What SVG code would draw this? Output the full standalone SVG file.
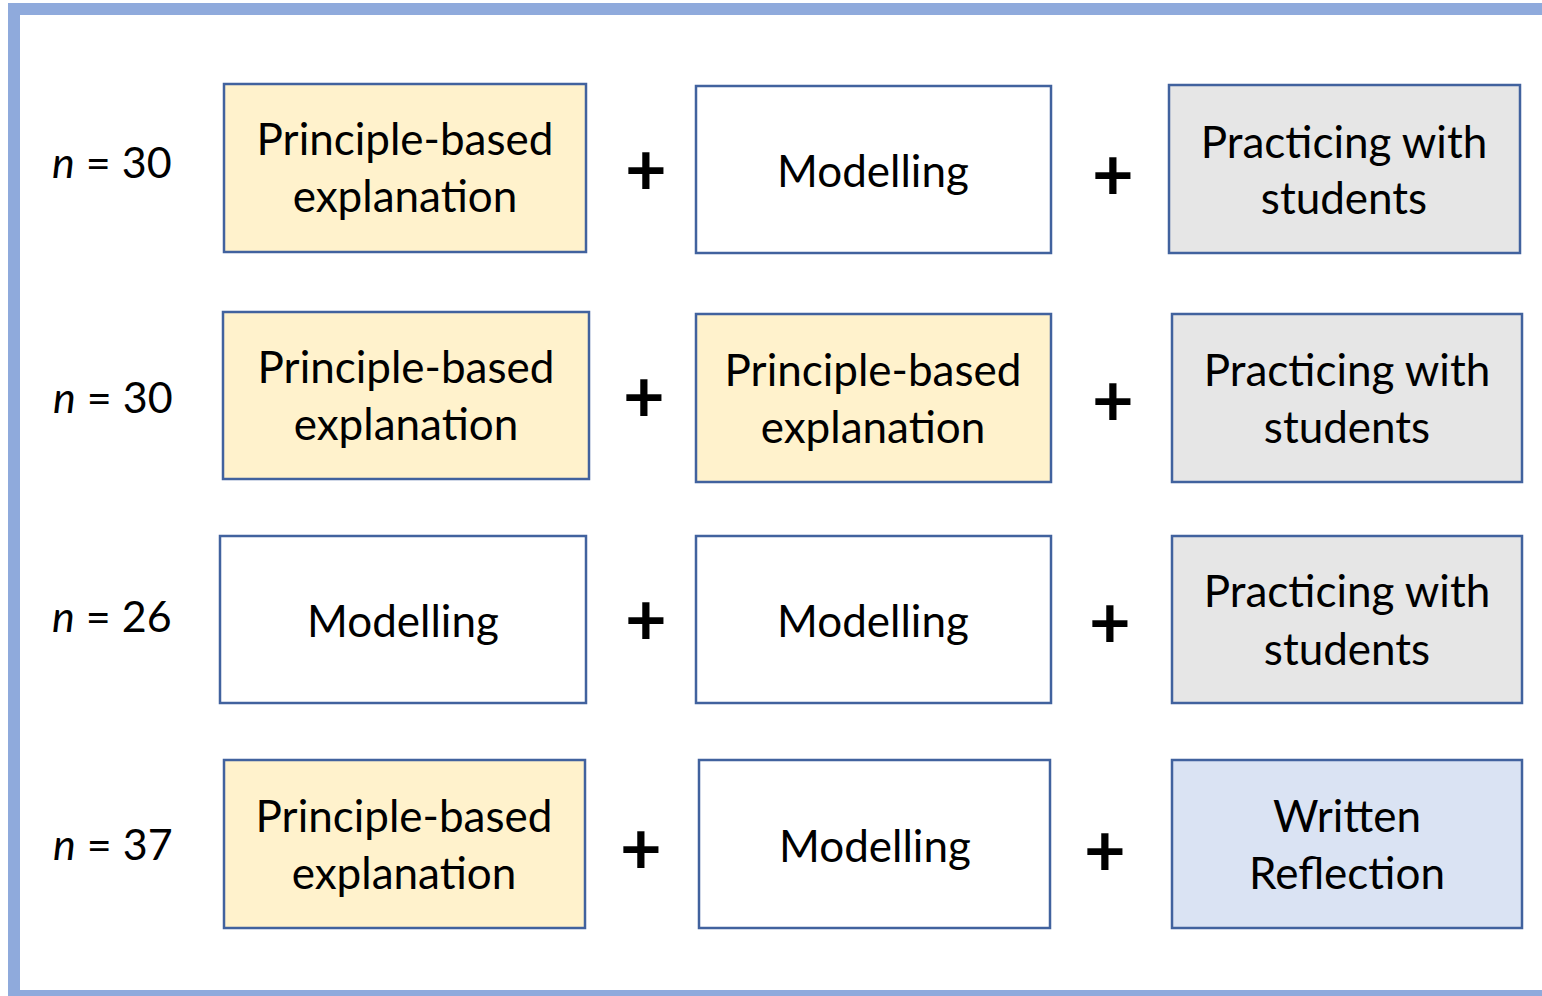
<svg xmlns="http://www.w3.org/2000/svg" width="1542" height="996" viewBox="0 0 1542 996">
  <style>
    .box { stroke: #41629E; stroke-width: 2.5; }
    .yellow { fill: #FFF2CC; }
    .white { fill: #FFFFFF; }
    .grey { fill: #E6E6E6; }
    .blue { fill: #DAE3F3; }
    text { font-family: Lato, "Open Sans", "Liberation Sans", sans-serif; fill: #000000; }
    .label { font-size: 44px; text-anchor: middle; }
    .count { font-size: 43px; }
    .plus { font-size: 72px; font-weight: bold; text-anchor: middle; }
  </style>

  <!-- outer frame -->
  <rect x="14" y="9" width="1540" height="987" fill="#FFFFFF" stroke="#8FAADC" stroke-width="12"/>

  <!-- group sizes -->
  <g id="counts" class="count">
    <text x="52" y="178"><tspan font-style="italic">n</tspan> = 30</text>
    <text x="53" y="413"><tspan font-style="italic">n</tspan> = 30</text>
    <text x="52" y="632"><tspan font-style="italic">n</tspan> = 26</text>
    <text x="53" y="860"><tspan font-style="italic">n</tspan> = 37</text>
  </g>

  <!-- row 1 -->
  <g id="r1-principle">
    <rect class="box yellow" x="224" y="84" width="362" height="168"/>
    <text class="label" x="405" y="155">Principle-based</text>
    <text class="label" x="405" y="212">explanation</text>
  </g>
  <g id="r1-modelling">
    <rect class="box white" x="696" y="86" width="355" height="167"/>
    <text class="label" x="873" y="187">Modelling</text>
  </g>
  <g id="r1-practicing">
    <rect class="box grey" x="1169" y="85" width="351" height="168"/>
    <text class="label" x="1344" y="158">Practicing with</text>
    <text class="label" x="1344" y="214">students</text>
  </g>

  <!-- row 2 -->
  <g id="r2-principle-a">
    <rect class="box yellow" x="223" y="312" width="366" height="167"/>
    <text class="label" x="406" y="383">Principle-based</text>
    <text class="label" x="406" y="440">explanation</text>
  </g>
  <g id="r2-principle-b">
    <rect class="box yellow" x="696" y="314" width="355" height="168"/>
    <text class="label" x="873" y="386">Principle-based</text>
    <text class="label" x="873" y="443">explanation</text>
  </g>
  <g id="r2-practicing">
    <rect class="box grey" x="1172" y="314" width="350" height="168"/>
    <text class="label" x="1347" y="386">Practicing with</text>
    <text class="label" x="1347" y="443">students</text>
  </g>

  <!-- row 3 -->
  <g id="r3-modelling-a">
    <rect class="box white" x="220" y="536" width="366" height="167"/>
    <text class="label" x="403" y="637">Modelling</text>
  </g>
  <g id="r3-modelling-b">
    <rect class="box white" x="696" y="536" width="355" height="167"/>
    <text class="label" x="873" y="637">Modelling</text>
  </g>
  <g id="r3-practicing">
    <rect class="box grey" x="1172" y="536" width="350" height="167"/>
    <text class="label" x="1347" y="607">Practicing with</text>
    <text class="label" x="1347" y="665">students</text>
  </g>

  <!-- row 4 -->
  <g id="r4-principle">
    <rect class="box yellow" x="224" y="760" width="361" height="168"/>
    <text class="label" x="404" y="832">Principle-based</text>
    <text class="label" x="404" y="889">explanation</text>
  </g>
  <g id="r4-modelling">
    <rect class="box white" x="699" y="760" width="351" height="168"/>
    <text class="label" x="875" y="862">Modelling</text>
  </g>
  <g id="r4-reflection">
    <rect class="box blue" x="1172" y="760" width="350" height="168"/>
    <text class="label" x="1347" y="832">Written</text>
    <text class="label" x="1347" y="889">Reflection</text>
  </g>

  <!-- plus signs joining the parts of each condition -->
  <g id="connectors" class="plus">
    <text x="646" y="195">+</text>
    <text x="1113" y="200">+</text>
    <text x="644" y="422">+</text>
    <text x="1113" y="426">+</text>
    <text x="646" y="645">+</text>
    <text x="1110" y="648">+</text>
    <text x="641" y="874">+</text>
    <text x="1105" y="876">+</text>
  </g>
</svg>
